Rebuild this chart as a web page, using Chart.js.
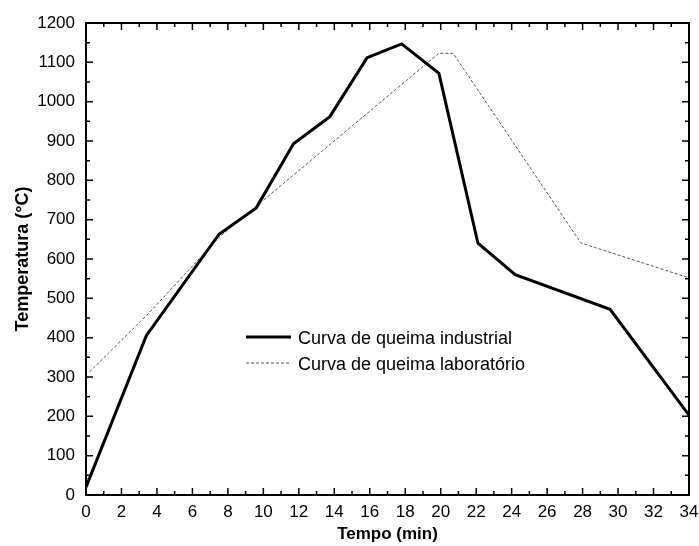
<!DOCTYPE html>
<html>
<head>
<meta charset="utf-8">
<script src="https://cdn.jsdelivr.net/npm/chart.js@4"></script>
<style>
  html, body { margin: 0; padding: 0; background: #fff; }
  #wrap { width: 699px; height: 546px; }
</style>
</head>
<body>
<div id="wrap"><canvas id="tempChart" width="699" height="546"></canvas></div>
<script>
// Curva de queima - industrial vs laboratorio
const industrialTime = [0, 3.4, 7.5, 9.6, 11.7, 13.75, 15.85, 17.8, 19.9, 22.1, 24.2, 29.55, 34];
const industrialTemp = [20, 405, 663, 730, 893, 962, 1112, 1147, 1072, 640, 560, 472, 203];
const labTime = [0.2, 3.6, 7.5, 19.9, 20.7, 27.9, 34];
const labTemp = [313, 465, 655, 1123, 1123, 641, 552];

const xTicks = [0, 2, 4, 6, 8, 10, 12, 14, 16, 18, 20, 22, 24, 26, 28, 30, 32, 34];
const yTicks = [0, 100, 200, 300, 400, 500, 600, 700, 800, 900, 1000, 1100, 1200];

const seriesLabels = ['Curva de queima industrial', 'Curva de queima laboratório'];

function toPoints(xs, ys) {
    return xs.map((x, i) => ({ x: x, y: ys[i] }));
}

// frame + inward ticks on all four sides, and the legend inside the plot
const framePlugin = {
    id: 'frame',
    afterDraw(chart) {
        const ctx = chart.ctx;
        const a = chart.chartArea;
        const xs = chart.scales.x;
        const ys = chart.scales.y;
        ctx.save();
        ctx.strokeStyle = '#000';
        ctx.lineWidth = 2;
        ctx.strokeRect(a.left, a.top, a.right - a.left, a.bottom - a.top);

        ctx.lineWidth = 1.5;
        ctx.beginPath();
        for (let v = 0; v <= 34; v += 1) {
            const px = xs.getPixelForValue(v);
            const len = v % 2 === 0 ? 7 : 4;
            ctx.moveTo(px, a.bottom); ctx.lineTo(px, a.bottom - len);
            ctx.moveTo(px, a.top); ctx.lineTo(px, a.top + len);
        }
        for (let v = 0; v <= 1200; v += 50) {
            const py = ys.getPixelForValue(v);
            const len = v % 100 === 0 ? 7 : 4;
            ctx.moveTo(a.left, py); ctx.lineTo(a.left + len, py);
            ctx.moveTo(a.right, py); ctx.lineTo(a.right - len, py);
        }
        ctx.stroke();

        // legend
        const rows = [337, 363];
        ctx.font = '18px "Liberation Sans", Arial, sans-serif';
        ctx.textBaseline = 'middle';
        ctx.fillStyle = '#000';
        chart.data.datasets.forEach((ds, i) => {
            ctx.beginPath();
            ctx.strokeStyle = ds.borderColor;
            ctx.lineWidth = ds.borderWidth;
            ctx.setLineDash(ds.borderDash || []);
            ctx.moveTo(246, rows[i]);
            ctx.lineTo(291, rows[i]);
            ctx.stroke();
            ctx.setLineDash([]);
            ctx.fillText(ds.label, 298, rows[i] + 2);
        });
        ctx.restore();
    }
};

const ctx = document.getElementById('tempChart').getContext('2d');
new Chart(ctx, {
    type: 'line',
    data: {
        datasets: [{
            label: seriesLabels[0],
            data: toPoints(industrialTime, industrialTemp),
            borderColor: '#000',
            borderWidth: 3,
            pointRadius: 0,
            tension: 0
        }, {
            label: seriesLabels[1],
            data: toPoints(labTime, labTemp),
            borderColor: '#555',
            borderWidth: 1,
            borderDash: [3, 2],
            pointRadius: 0,
            tension: 0
        }]
    },
    options: {
        responsive: false,
        animation: false,
        layout: { padding: { top: 23, right: 10, left: 0, bottom: 0 } },
        plugins: {
            legend: { display: false },
            tooltip: { enabled: false }
        },
        scales: {
            x: {
                type: 'linear',
                min: 0,
                max: 34,
                afterFit: s => { s.height = 51; s.paddingLeft = 0; s.paddingRight = 0; },
                afterBuildTicks: s => { s.ticks = xTicks.map(v => ({ value: v })); },
                grid: { display: false, drawTicks: false },
                border: { display: false },
                ticks: {
                    color: '#000',
                    padding: 7,
                    maxRotation: 0,
                    autoSkip: false,
                    callback: v => String(v),
                    font: { family: '"Liberation Sans", Arial, sans-serif', size: 17 }
                },
                title: {
                    display: true,
                    text: 'Tempo (min)',
                    color: '#000',
                    padding: { top: 0, bottom: 1 },
                    font: { family: '"Liberation Sans", Arial, sans-serif', size: 17, weight: 'bold' }
                }
            },
            y: {
                min: 0,
                max: 1200,
                afterFit: s => { s.width = 86; s.paddingTop = 0; s.paddingBottom = 0; },
                afterBuildTicks: s => { s.ticks = yTicks.map(v => ({ value: v })); },
                grid: { display: false, drawTicks: false },
                border: { display: false },
                ticks: {
                    color: '#000',
                    padding: 11,
                    autoSkip: false,
                    callback: v => String(v),
                    font: { family: '"Liberation Sans", Arial, sans-serif', size: 17 }
                },
                title: {
                    display: true,
                    text: 'Temperatura (°C)',
                    color: '#000',
                    padding: { top: 12, bottom: 0 },
                    font: { family: '"Liberation Sans", Arial, sans-serif', size: 18, weight: 'bold' }
                }
            }
        }
    },
    plugins: [framePlugin]
});
</script>
</body>
</html>
